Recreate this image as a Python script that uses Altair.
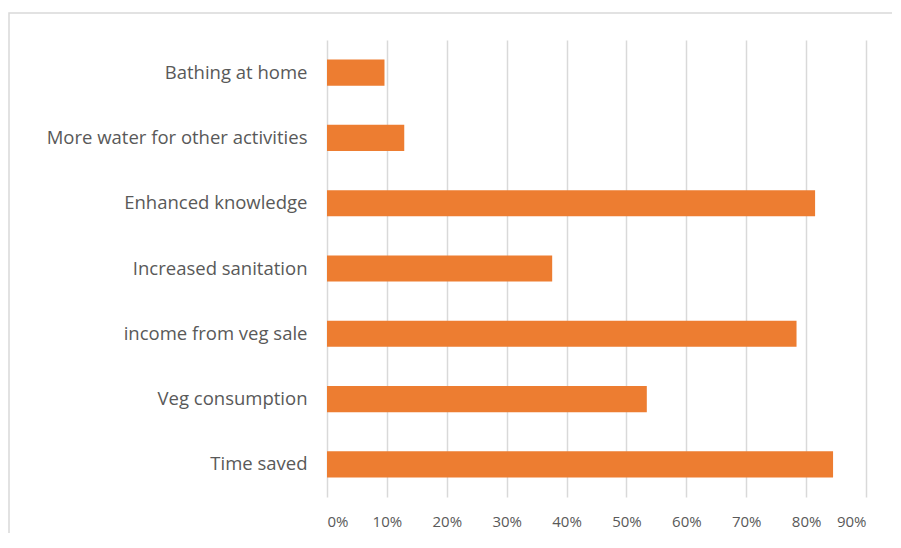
import altair as alt
import pandas as pd

categories = [
    "Bathing at home",
    "More water for other activities",
    "Enhanced knowledge",
    "Increased sanitation",
    "income from veg sale",
    "Veg consumption",
    "Time saved",
]
values = [0.096, 0.129, 0.815, 0.376, 0.784, 0.534, 0.845]
x_ticks = [0, 0.1, 0.2, 0.3, 0.4, 0.5, 0.6, 0.7, 0.8, 0.9]

df = pd.DataFrame({"category": categories, "value": values})
frame = pd.DataFrame({"k": [0]})

FONT = "Open Sans"
GRAY = "#595959"

bars = alt.Chart(df).mark_bar(color="#ED7D31").encode(
    x=alt.X(
        "value:Q",
        scale=alt.Scale(domain=[0, 0.9], nice=False),
        axis=alt.Axis(
            values=x_ticks,
            format=".0%",
            title=None,
            domain=False,
            ticks=False,
            grid=True,
            gridColor="#d9d9d9",
            gridWidth=1.5,
            labelFont=FONT,
            labelFontSize=15,
            labelColor=GRAY,
            labelPadding=17,
        ),
    ),
    y=alt.Y(
        "category:N",
        sort=None,
        scale=alt.Scale(paddingInner=0.6, paddingOuter=0.3),
        axis=alt.Axis(
            title=None,
            domain=False,
            ticks=False,
            labelFont=FONT,
            labelFontSize=18.5,
            labelColor=GRAY,
            labelPadding=20,
            labelLimit=400,
        ),
    ),
)

border = alt.Chart(frame).mark_rect(
    fill=None, stroke="#d9d9d9", strokeWidth=1.5
).encode(
    x=alt.value(-318),
    x2=alt.value(620),
    y=alt.value(-27),
    y2=alt.value(560),
)

chart = alt.layer(border, bars).properties(
    width=539,
    height=457,
    padding={"left": 319, "top": 32, "right": 26, "bottom": 36},
    autosize=alt.AutoSizeParams(type="none"),
).configure_view(stroke=None)

chart.save("out.html", embed_options={"renderer": "svg", "actions": False})
